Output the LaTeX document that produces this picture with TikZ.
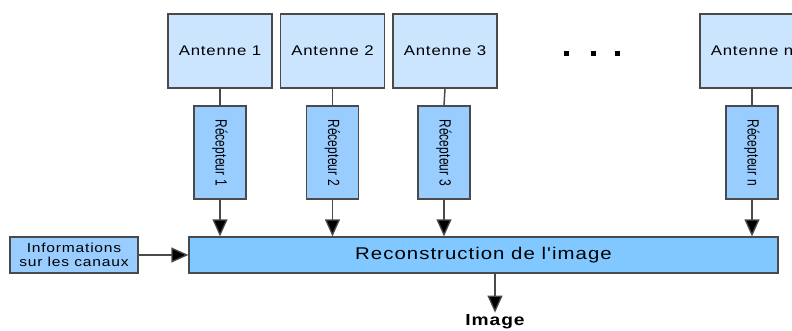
\documentclass[tikz,border=0pt]{standalone}
\usepackage{fontspec}
\usepackage{tikz}
\usetikzlibrary{arrows.meta, positioning}
\newfontfamily\boxfont{Liberation Sans}[FakeStretch=1.2, LetterSpace=6]
\newfontfamily\recfont{Liberation Sans}[LetterSpace=1]
\definecolor{antfill}{HTML}{CCE5FF}
\definecolor{recfill}{HTML}{99CCFF}
\definecolor{imgfill}{HTML}{80C8FF}
\definecolor{edge}{HTML}{4A4A4A}
\tikzset{
  antbox/.style={draw=edge, line width=1.3pt, fill=antfill, minimum width=104pt,
    minimum height=74pt, inner sep=0pt, font=\boxfont\fontsize{14}{16}\selectfont},
  recbox/.style={draw=edge, line width=1.3pt, fill=recfill, minimum width=52pt,
    minimum height=93pt, inner sep=0pt},
  arr/.style={draw=edge, line width=1.3pt, -{Triangle[length=17pt, width=15pt, fill=black]}},
  link/.style={draw=edge, line width=1.5pt}
}

\begin{document}
\begin{tikzpicture}[x=1pt, y=-1pt]
  \clip (0,0) rectangle (792,331);

  % Antennas
  \node[antbox] (ant1) at (220,51) {Antenne 1};
  \node[antbox] (ant2) at (332.5,51) {Antenne 2};
  \node[antbox] (ant3) at (445,51) {Antenne 3};
  \node[antbox] (antn) at (752,51) {Antenne n};

  % dots
  \foreach \x in {566,593,617}
    \fill (\x-2.5,51.5) rectangle (\x+2.5,56.5);

  % Receivers
  \foreach \n/\x in {1/220,2/332.5,3/444,n/752}
    \node[recbox] (rec\n) at (\x,152.5)
      {\rotatebox{-90}{\scalebox{1}[1.35]{\recfont\fontsize{12}{14}\selectfont R\'ecepteur \n}}};

  % Reconstruction
  \node[draw=edge, line width=1.3pt, fill=imgfill, minimum width=589pt, minimum height=36pt,
    inner sep=0pt, font=\boxfont\fontsize{17}{19}\selectfont] (recon) at (483.5,255)
    {Reconstruction de l'image};
  \node[draw=edge, line width=1.3pt, fill=recfill, minimum width=128pt, minimum height=36pt,
    inner sep=0pt, align=center, font=\boxfont\fontsize{13}{14}\selectfont] (info) at (74,255)
    {Informations\\sur les canaux};
  \node[font=\boxfont\bfseries\fontsize{16}{18}\selectfont, inner sep=2pt] (img) at (495,322) {Image};

  % connectors
  \foreach \n in {1,2,3,n} {
    \draw[link] (ant\n.south) -- (rec\n.north);
    \draw[arr] (rec\n.south) -- (rec\n.south |- recon.north);
  }
  \draw[arr] (info.east) -- (recon.west);
  \draw[arr] (recon.south -| img.north) -- (img.north);
\end{tikzpicture}
\end{document}
